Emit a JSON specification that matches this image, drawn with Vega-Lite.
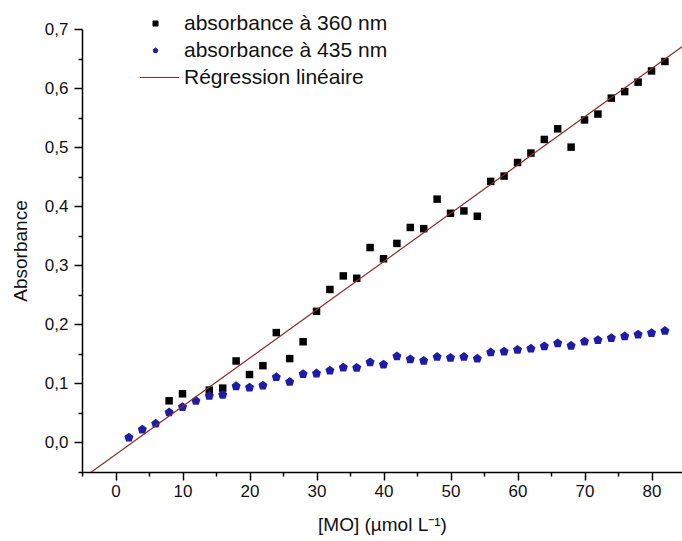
{
  "$schema": "https://vega.github.io/schema/vega-lite/v6.json",
  "width": 600,
  "height": 443,
  "autosize": {"type": "none"},
  "padding": {"left": 82, "top": 29, "right": 0, "bottom": 69},
  "background": "white",
  "config": {
    "font": "Liberation Sans",
    "view": {"stroke": null},
    "axis": {
      "grid": false,
      "domainColor": "black",
      "domainWidth": 1.5,
      "tickColor": "black",
      "tickWidth": 1.5,
      "labelColor": "#111",
      "titleColor": "#111",
      "labelFont": "Liberation Sans",
      "labelFontSize": 17,
      "titleFont": "Liberation Sans",
      "titleFontSize": 19,
      "titleFontWeight": "normal",
      "labelOverlap": false,
      "labelFlush": false
    }
  },
  "data": {
    "values": [
      {"serie": "absorbance à 360 nm", "conc": 8, "abs": 0.0705},
      {"serie": "absorbance à 360 nm", "conc": 10, "abs": 0.0824},
      {"serie": "absorbance à 360 nm", "conc": 14, "abs": 0.0886},
      {"serie": "absorbance à 360 nm", "conc": 16, "abs": 0.092},
      {"serie": "absorbance à 360 nm", "conc": 18, "abs": 0.138},
      {"serie": "absorbance à 360 nm", "conc": 20, "abs": 0.115},
      {"serie": "absorbance à 360 nm", "conc": 22, "abs": 0.130},
      {"serie": "absorbance à 360 nm", "conc": 24, "abs": 0.186},
      {"serie": "absorbance à 360 nm", "conc": 26, "abs": 0.142},
      {"serie": "absorbance à 360 nm", "conc": 28, "abs": 0.1705},
      {"serie": "absorbance à 360 nm", "conc": 30, "abs": 0.222},
      {"serie": "absorbance à 360 nm", "conc": 32, "abs": 0.259},
      {"serie": "absorbance à 360 nm", "conc": 34, "abs": 0.282},
      {"serie": "absorbance à 360 nm", "conc": 36, "abs": 0.278},
      {"serie": "absorbance à 360 nm", "conc": 38, "abs": 0.330},
      {"serie": "absorbance à 360 nm", "conc": 40, "abs": 0.311},
      {"serie": "absorbance à 360 nm", "conc": 42, "abs": 0.337},
      {"serie": "absorbance à 360 nm", "conc": 44, "abs": 0.364},
      {"serie": "absorbance à 360 nm", "conc": 46, "abs": 0.362},
      {"serie": "absorbance à 360 nm", "conc": 48, "abs": 0.412},
      {"serie": "absorbance à 360 nm", "conc": 50, "abs": 0.388},
      {"serie": "absorbance à 360 nm", "conc": 52, "abs": 0.392},
      {"serie": "absorbance à 360 nm", "conc": 54, "abs": 0.383},
      {"serie": "absorbance à 360 nm", "conc": 56, "abs": 0.442},
      {"serie": "absorbance à 360 nm", "conc": 58, "abs": 0.451},
      {"serie": "absorbance à 360 nm", "conc": 60, "abs": 0.474},
      {"serie": "absorbance à 360 nm", "conc": 62, "abs": 0.490},
      {"serie": "absorbance à 360 nm", "conc": 64, "abs": 0.513},
      {"serie": "absorbance à 360 nm", "conc": 66, "abs": 0.531},
      {"serie": "absorbance à 360 nm", "conc": 68, "abs": 0.500},
      {"serie": "absorbance à 360 nm", "conc": 70, "abs": 0.546},
      {"serie": "absorbance à 360 nm", "conc": 72, "abs": 0.556},
      {"serie": "absorbance à 360 nm", "conc": 74, "abs": 0.583},
      {"serie": "absorbance à 360 nm", "conc": 76, "abs": 0.594},
      {"serie": "absorbance à 360 nm", "conc": 78, "abs": 0.610},
      {"serie": "absorbance à 360 nm", "conc": 80, "abs": 0.629},
      {"serie": "absorbance à 360 nm", "conc": 82, "abs": 0.645},
      {"serie": "absorbance à 435 nm", "conc": 2, "abs": 0.0085},
      {"serie": "absorbance à 435 nm", "conc": 4, "abs": 0.022},
      {"serie": "absorbance à 435 nm", "conc": 6, "abs": 0.032},
      {"serie": "absorbance à 435 nm", "conc": 8, "abs": 0.051},
      {"serie": "absorbance à 435 nm", "conc": 10, "abs": 0.060},
      {"serie": "absorbance à 435 nm", "conc": 12, "abs": 0.0705},
      {"serie": "absorbance à 435 nm", "conc": 14, "abs": 0.079},
      {"serie": "absorbance à 435 nm", "conc": 16, "abs": 0.081},
      {"serie": "absorbance à 435 nm", "conc": 18, "abs": 0.0954},
      {"serie": "absorbance à 435 nm", "conc": 20, "abs": 0.093},
      {"serie": "absorbance à 435 nm", "conc": 22, "abs": 0.0966},
      {"serie": "absorbance à 435 nm", "conc": 24, "abs": 0.1107},
      {"serie": "absorbance à 435 nm", "conc": 26, "abs": 0.1027},
      {"serie": "absorbance à 435 nm", "conc": 28, "abs": 0.116},
      {"serie": "absorbance à 435 nm", "conc": 30, "abs": 0.117},
      {"serie": "absorbance à 435 nm", "conc": 32, "abs": 0.122},
      {"serie": "absorbance à 435 nm", "conc": 34, "abs": 0.127},
      {"serie": "absorbance à 435 nm", "conc": 36, "abs": 0.1265},
      {"serie": "absorbance à 435 nm", "conc": 38, "abs": 0.136},
      {"serie": "absorbance à 435 nm", "conc": 40, "abs": 0.132},
      {"serie": "absorbance à 435 nm", "conc": 42, "abs": 0.146},
      {"serie": "absorbance à 435 nm", "conc": 44, "abs": 0.141},
      {"serie": "absorbance à 435 nm", "conc": 46, "abs": 0.1385},
      {"serie": "absorbance à 435 nm", "conc": 48, "abs": 0.145},
      {"serie": "absorbance à 435 nm", "conc": 50, "abs": 0.1436},
      {"serie": "absorbance à 435 nm", "conc": 52, "abs": 0.145},
      {"serie": "absorbance à 435 nm", "conc": 54, "abs": 0.142},
      {"serie": "absorbance à 435 nm", "conc": 56, "abs": 0.1526},
      {"serie": "absorbance à 435 nm", "conc": 58, "abs": 0.154},
      {"serie": "absorbance à 435 nm", "conc": 60, "abs": 0.157},
      {"serie": "absorbance à 435 nm", "conc": 62, "abs": 0.159},
      {"serie": "absorbance à 435 nm", "conc": 64, "abs": 0.163},
      {"serie": "absorbance à 435 nm", "conc": 66, "abs": 0.168},
      {"serie": "absorbance à 435 nm", "conc": 68, "abs": 0.164},
      {"serie": "absorbance à 435 nm", "conc": 70, "abs": 0.171},
      {"serie": "absorbance à 435 nm", "conc": 72, "abs": 0.1736},
      {"serie": "absorbance à 435 nm", "conc": 74, "abs": 0.177},
      {"serie": "absorbance à 435 nm", "conc": 76, "abs": 0.180},
      {"serie": "absorbance à 435 nm", "conc": 78, "abs": 0.183},
      {"serie": "absorbance à 435 nm", "conc": 80, "abs": 0.1854},
      {"serie": "absorbance à 435 nm", "conc": 82, "abs": 0.189},
      {"serie": "Régression linéaire", "conc": -4, "abs": -0.0533},
      {"serie": "Régression linéaire", "conc": 85, "abs": 0.6736}
    ]
  },
  "encoding": {
    "x": {
      "field": "conc",
      "type": "quantitative",
      "scale": {"domain": [-5, 84.55], "nice": false, "zero": false},
      "axis": {
        "title": "[MO] (µmol L⁻¹)",
        "values": [-5, 0, 5, 10, 15, 20, 25, 30, 35, 40, 45, 50, 55, 60, 65, 70, 75, 80],
        "labelExpr": "abs(datum.value % 10) < 0.001 ? format(datum.value, 'd') : ''",
        "tickSize": {"condition": {"test": "abs(datum.value % 10) < 0.001", "value": 8}, "value": 4},
        "labelPadding": 3,
        "titlePadding": 16
      }
    },
    "y": {
      "field": "abs",
      "type": "quantitative",
      "scale": {"domain": [-0.05, 0.7], "nice": false, "zero": false},
      "axis": {
        "title": "Absorbance",
        "values": [-0.05, 0, 0.05, 0.1, 0.15, 0.2, 0.25, 0.3, 0.35, 0.4, 0.45, 0.5, 0.55, 0.6, 0.65, 0.7],
        "labelExpr": "abs(datum.value * 10 - round(datum.value * 10)) < 0.001 ? replace(format(datum.value, '.1f'), '.', ',') : ''",
        "tickSize": {"condition": {"test": "abs(datum.value * 10 - round(datum.value * 10)) < 0.001", "value": 8}, "value": 4},
        "labelPadding": 6,
        "titlePadding": 14
      }
    },
    "color": {
      "field": "serie",
      "type": "nominal",
      "scale": {
        "domain": ["absorbance à 360 nm", "absorbance à 435 nm", "Régression linéaire"],
        "range": ["#000000", "#1c1ca8", "#8b2a2a"]
      },
      "legend": {
        "title": null,
        "orient": "none",
        "legendX": 63,
        "legendY": -16,
        "symbolSize": 25,
        "labelFontSize": 21,
        "labelFont": "Liberation Sans",
        "labelColor": "#111",
        "labelLimit": 400,
        "labelOffset": 18,
        "rowPadding": 5,
        "padding": 0,
        "encode": {
          "symbols": {
            "update": {
              "fill": {"scale": "color", "field": "value"},
              "stroke": {"scale": "color", "field": "value"},
              "strokeWidth": {"value": 1},
              "size": {"value": 25},
              "opacity": {"value": 1}
            }
          }
        }
      }
    }
  },
  "layer": [
    {
      "transform": [{"filter": "datum.serie === 'absorbance à 360 nm'"}],
      "mark": {"type": "point", "filled": true, "size": 56, "opacity": 1},
      "encoding": {
        "shape": {
          "field": "serie",
          "type": "nominal",
          "scale": {
            "domain": ["absorbance à 360 nm", "absorbance à 435 nm", "Régression linéaire"],
            "range": ["square", "M0,-1L0.95,-0.3L0.6,0.85L-0.6,0.85L-0.95,-0.3Z", "M-6.2,0H9.4"]
          },
          "legend": {
            "title": null,
            "orient": "none",
            "legendX": 63,
            "legendY": -16,
            "symbolSize": 25,
            "labelFontSize": 21,
            "labelFont": "Liberation Sans",
            "labelColor": "#111",
            "labelLimit": 400,
            "labelOffset": 18,
            "rowPadding": 5,
            "padding": 0
          }
        }
      }
    },
    {
      "transform": [{"filter": "datum.serie === 'absorbance à 435 nm'"}],
      "mark": {"type": "point", "filled": true, "size": 90, "opacity": 1},
      "encoding": {
        "shape": {
          "field": "serie",
          "type": "nominal",
          "scale": {
            "domain": ["absorbance à 360 nm", "absorbance à 435 nm", "Régression linéaire"],
            "range": ["square", "M0,-1L0.95,-0.3L0.6,0.85L-0.6,0.85L-0.95,-0.3Z", "M-6.2,0H9.4"]
          }
        }
      }
    },
    {
      "transform": [{"filter": "datum.serie === 'Régression linéaire'"}],
      "mark": {"type": "line", "strokeWidth": 1.2, "clip": true},
      "encoding": {}
    }
  ]
}
